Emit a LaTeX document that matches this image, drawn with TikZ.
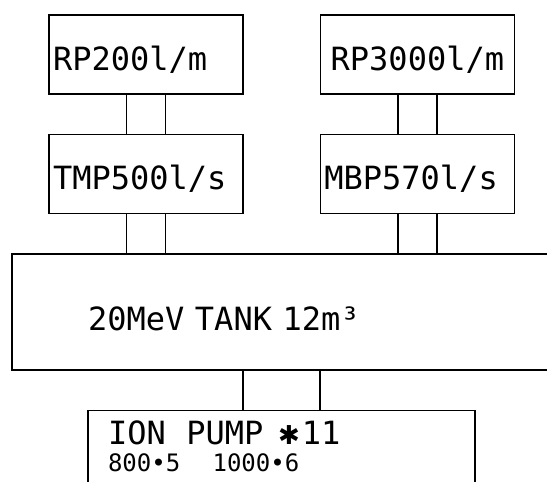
\documentclass[tikz,border=0pt]{standalone}
\usepackage{fontspec}
\setmonofont{DejaVu Sans Mono}
\newfontfamily\symfnt{DejaVu Sans}
\usetikzlibrary{positioning}
\tikzset{
  pumpbox/.style={
    rectangle, draw=black, line width=1.4pt,
    minimum width=194pt, minimum height=79pt,
    text width=186pt, inner xsep=4pt, align=left,
    text height=31pt, text depth=0pt,
    font=\ttfamily\fontsize{32}{38}\selectfont,
  },
  tankbox/.style={
    rectangle, draw=black, line width=1.4pt,
    minimum width=588pt, minimum height=116pt,
    text width=436pt, inner xsep=76pt, align=left,
    text height=38pt, text depth=0pt,
    font=\ttfamily\fontsize{32}{38}\selectfont,
  },
  ionbox/.style={
    rectangle, draw=black, line width=1.4pt,
    text width=347pt, inner xsep=20pt, inner ysep=11pt, align=left,
    font=\ttfamily\fontsize{32}{27}\selectfont,
  },
  pipe/.style={line width=1.2pt, color=black},
}
\begin{document}
\begin{tikzpicture}[x=1pt,y=1pt]
  \clip (0,0) rectangle (547,-482);
  \node[pumpbox] (rp200) at (146,-54.5) {RP200l/m};
  \node[pumpbox,below=39pt of rp200] (tmp) {TMP500l/s};
  \node[pumpbox,right=76pt of rp200,align=center] (rp3000) {RP3000l/m};
  \node[pumpbox,below=39pt of rp3000] (mbp) {MBP570l/s};
  \node[tankbox,below=39pt of tmp.south west,anchor=north west,xshift=-37pt] (tank) {20MeV TANK 12m³};
  \node[ionbox,below=39pt of tank.south west,anchor=north west,xshift=76pt] (ion)
    {ION\ \hspace{10pt}PUMP\ \hspace{4pt}{\symfnt\fontsize{26}{27}\selectfont ✱}\hspace{2pt}11\\
     {\fontsize{24}{27}\selectfont 800•5\ \ \hspace{11pt}1000•6}};
  % pipes between pumps
  \draw[pipe] ([xshift=-19.5pt]rp200.south)--([xshift=-19.5pt]tmp.north);
  \draw[pipe] ([xshift=19.5pt]rp200.south)--([xshift=19.5pt]tmp.north);
  \draw[pipe] ([xshift=-19.5pt]rp3000.south)--([xshift=-19.5pt]mbp.north);
  \draw[pipe] ([xshift=19.5pt]rp3000.south)--([xshift=19.5pt]mbp.north);
  % pipes into the tank
  \draw[pipe] ([xshift=-19.5pt]tmp.south)--([xshift=-19.5pt]tmp.south |- tank.north);
  \draw[pipe] ([xshift=19.5pt]tmp.south)--([xshift=19.5pt]tmp.south |- tank.north);
  \draw[pipe] ([xshift=-19.5pt]mbp.south)--([xshift=-19.5pt]mbp.south |- tank.north);
  \draw[pipe] ([xshift=19.5pt]mbp.south)--([xshift=19.5pt]mbp.south |- tank.north);
  % pipes to the ion pump
  \draw[pipe] ([xshift=-38.5pt]ion.north |- tank.south)--([xshift=-38.5pt]ion.north);
  \draw[pipe] ([xshift=38.5pt]ion.north |- tank.south)--([xshift=38.5pt]ion.north);
\end{tikzpicture}
\end{document}
